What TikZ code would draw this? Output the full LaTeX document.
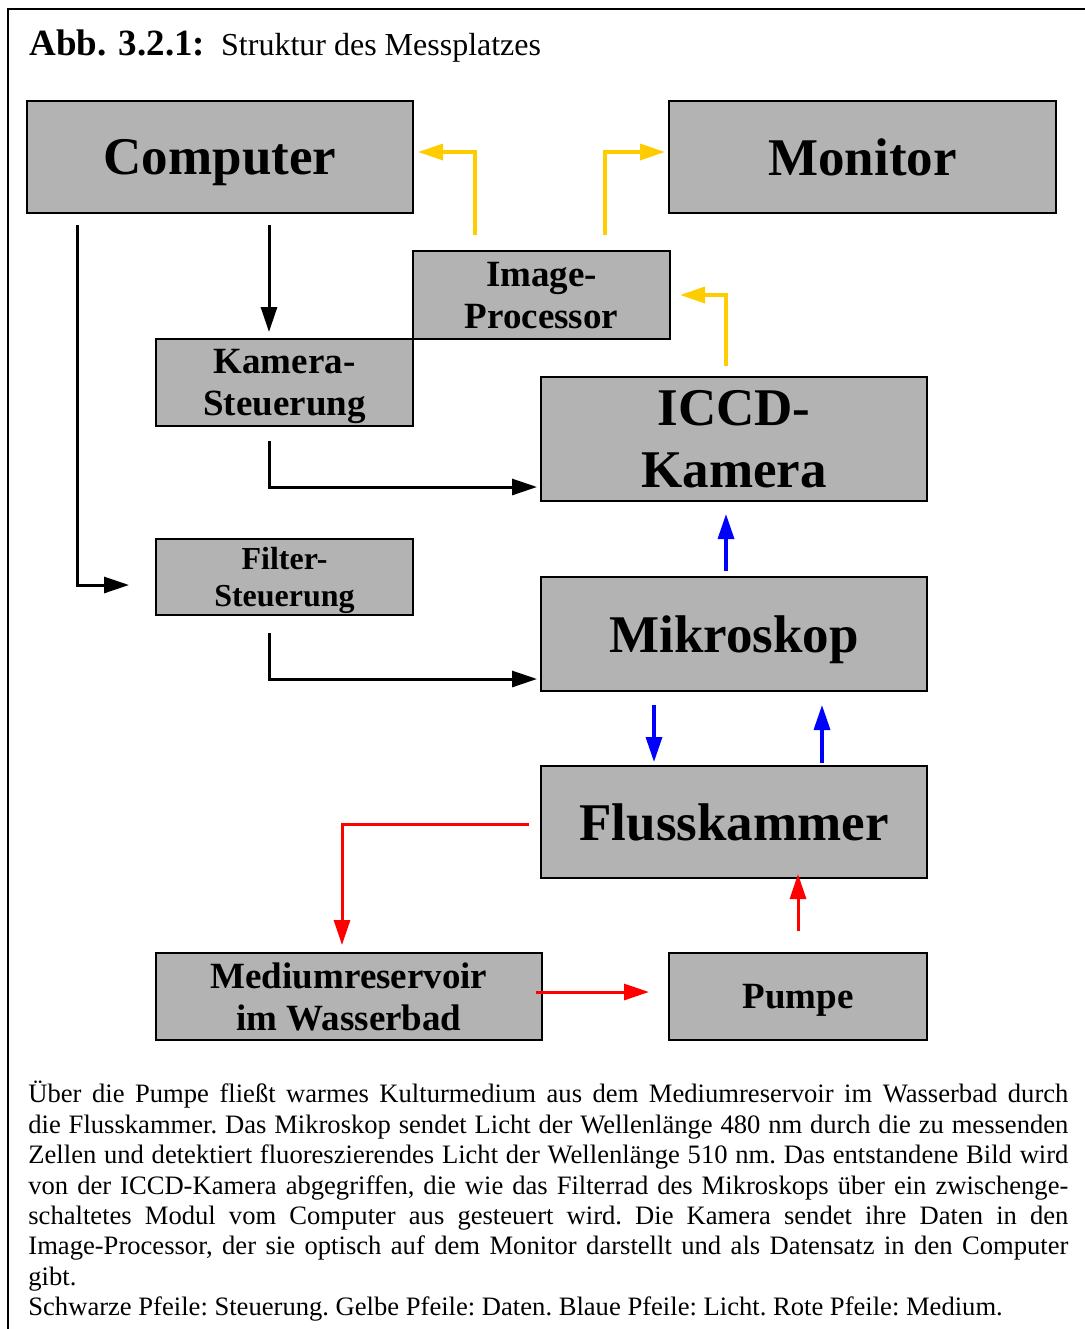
\documentclass[tikz,border=0pt]{standalone}
\usepackage{fontspec}
\setmainfont{Liberation Serif}
\usetikzlibrary{arrows.meta,calc}

\definecolor{boxgray}{HTML}{B3B3B3}
\definecolor{datayellow}{HTML}{FFCC00}

\begin{document}
\begin{tikzpicture}[x=0.5pt,y=-0.5pt,
  box/.style={draw,line width=1pt,fill=boxgray,inner sep=0pt,align=center,text depth=0pt},
  big/.style={font=\fontsize{26.5}{31}\selectfont\bfseries},
  mid/.style={font=\fontsize{18.5}{21}\selectfont\bfseries},
  small/.style={font=\fontsize{16}{18.5}\selectfont\bfseries},
  tip/.style={-{Triangle[length=12.5pt,width=8pt]}},
  ctrl/.style={tip,line width=1.5pt,black},
  data/.style={tip,line width=1.7pt,datayellow},
  light/.style={tip,line width=1.7pt,blue},
  flow/.style={tip,line width=1.5pt,red}]
  \useasboundingbox (0,0) rectangle (1085,1329);
  \draw[line width=1.1pt] (8,1329) |- (1085,9);
  \node[anchor=base west,inner sep=0pt] (title) at (29,55)
    {\fontsize{18.5}{22}\selectfont\bfseries Abb. 3.2.1:\hspace{8pt}\fontsize{16}{20}\selectfont\mdseries Struktur des Messplatzes};

  \node[box,big,minimum width=193pt,minimum height=56pt] (computer) at (220,157) {Computer};
  \node[box,big,minimum width=193.5pt,minimum height=56pt] (monitor) at (862.5,157) {Monitor};
  \node[box,mid,minimum width=128.5pt,minimum height=44pt] (improc) at (541.5,295) {Image-\\Processor};
  \node[box,mid,minimum width=128.5pt,minimum height=43.5pt] (kst) at (284.5,382.5) {Kamera-\\Steuerung};
  \node[box,big,minimum width=193pt,minimum height=62pt] (iccd) at (734,439) {ICCD-\\Kamera};
  \node[box,small,minimum width=128.5pt,minimum height=38pt] (fst) at (284.5,577) {Filter-\\Steuerung};
  \node[box,big,minimum width=193pt,minimum height=57pt] (mikro) at (734,634) {Mikroskop};
  \node[box,big,minimum width=193pt,minimum height=56pt] (fluss) at (734,822) {Flusskammer};
  \node[box,mid,minimum width=193pt,minimum height=43.5pt] (medium) at (349,996.5) {Mediumreservoir\\im Wasserbad};
  \node[box,mid,minimum width=129pt,minimum height=43.5pt] (pumpe) at (798,996.5) {Pumpe};

  % Steuerung
  \draw[ctrl,shorten <=5.5pt,shorten >=3pt] ($(computer.south)+(49,0)$) -- ($(kst.north)+(-15.5,0)$);
  \draw[ctrl,shorten <=5.5pt,shorten >=13pt] ($(computer.south west)+(51,0)$) |- ($(fst.west)+(0,8)$);
  \draw[ctrl,shorten <=7pt,shorten >=1.5pt] ($(kst.south)+(-15.5,0)$) |- ($(iccd.west)+(0,48)$);
  \draw[ctrl,shorten <=8.5pt,shorten >=1.5pt] ($(fst.south)+(-15.5,0)$) |- ($(mikro.west)+(0,45)$);
  % Daten
  \draw[data,shorten <=7.5pt,shorten >=2pt] ($(improc.north west)+(63,0)$) |- ($(computer.east)+(0,-5)$);
  \draw[data,shorten <=7.5pt,shorten >=1.5pt] ($(improc.north west)+(193,0)$) |- ($(monitor.west)+(0,-5)$);
  \draw[data,shorten <=5pt,shorten >=4.5pt] ($(iccd.north)+(-8,0)$) |- (improc.east);
  % Licht
  \draw[light,shorten <=2.5pt,shorten >=6pt] ($(mikro.north)+(-8,0)$) -- ($(iccd.south)+(-8,0)$);
  \draw[light,shorten <=6.5pt,shorten >=1.5pt] ($(mikro.south)+(-80,0)$) -- ($(fluss.north)+(-80,0)$);
  \draw[light,shorten <=1pt,shorten >=6.5pt] ($(fluss.north)+(88,0)$) -- ($(mikro.south)+(88,0)$);
  % Medium
  \draw[flow,shorten <=5.5pt,shorten >=3.5pt] ($(fluss.west)+(0,2)$) -| ($(medium.north)+(-7,0)$);
  \draw[flow,shorten <=-3.5pt,shorten >=9.5pt] ($(medium.east)+(0,-4.5)$) -- ($(pumpe.west)+(0,-4.5)$);
  \draw[flow,shorten <=10.5pt,shorten >=-2.5pt] (pumpe.north) -- (pumpe.north |- fluss.south);

  \node[anchor=north west,inner sep=0pt,text width=520pt,align=justify,
    font=\fontsize{13.3}{15.2}\selectfont] (text) at (28,1081)
    {\frenchspacing
     Über die Pumpe fließt warmes Kulturmedium aus dem Mediumreservoir im Wasserbad durch\linebreak
     die Flusskammer. Das Mikroskop sendet Licht der Wellenlänge 480 nm durch die zu messenden\linebreak
     Zellen und detektiert fluoreszierendes Licht der Wellenlänge 510 nm. Das entstandene Bild wird\linebreak
     von der ICCD-Kamera abgegriffen, die wie das Filterrad des Mikroskops über ein zwischenge-\linebreak
     schaltetes Modul vom Computer aus gesteuert wird. Die Kamera sendet ihre Daten in den\linebreak
     Image-Processor, der sie optisch auf dem Monitor darstellt und als Datensatz in den Computer\linebreak
     gibt.\par
     Schwarze Pfeile: Steuerung. Gelbe Pfeile: Daten. Blaue Pfeile: Licht. Rote Pfeile: Medium.};
\end{tikzpicture}
\end{document}
